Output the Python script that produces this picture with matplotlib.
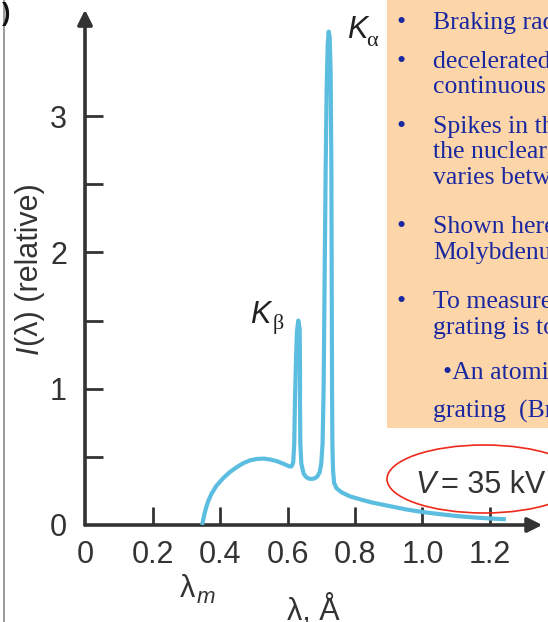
"""
X 射线谱 (Mo 靶, V = 35 kV) 的重绘
"""

import matplotlib
matplotlib.use("Agg")
import matplotlib.pyplot as plt
from matplotlib.patches import Rectangle, Ellipse

# ================== 数据 ==================
wavelength = [0.347, 0.352, 0.358, 0.365, 0.375, 0.39, 0.41, 0.43, 0.45,
              0.47, 0.49, 0.51, 0.53, 0.55, 0.57, 0.59, 0.605, 0.612,
              0.617, 0.620, 0.622, 0.625, 0.628, 0.632, 0.636, 0.637,
              0.637, 0.638, 0.641, 0.648, 0.656, 0.664, 0.672, 0.680, 0.688,
              0.695, 0.700, 0.704, 0.707, 0.710, 0.713, 0.716, 0.719, 0.722,
              0.725, 0.728, 0.730, 0.731, 0.732, 0.733, 0.735, 0.738, 0.745,
              0.76, 0.785, 0.82, 0.85, 0.90, 0.95, 1.00, 1.05, 1.10, 1.15,
              1.20, 1.247]
intensity = [0.0, 0.06, 0.12, 0.175, 0.23, 0.29, 0.345, 0.39, 0.425,
             0.455, 0.475, 0.485, 0.487, 0.48, 0.467, 0.447, 0.43, 0.43,
             0.46, 0.60, 0.90, 1.20, 1.42, 1.50, 1.44, 1.20,
             0.90, 0.60, 0.45, 0.375, 0.35, 0.34, 0.338, 0.342, 0.355,
             0.385, 0.45, 0.60, 1.00, 1.80, 2.60, 3.20, 3.52, 3.62,
             3.58, 3.30, 2.60, 1.80, 1.00, 0.60, 0.40, 0.31, 0.27,
             0.24, 0.21, 0.185, 0.165, 0.14, 0.115, 0.095, 0.08, 0.066, 0.056,
             0.048, 0.042]

x_ticks = [0, 0.2, 0.4, 0.6, 0.8, 1.0, 1.2]
x_labels = ["0", "0.2", "0.4", "0.6", "0.8", "1.0", "1.2"]
y_ticks = [0, 1, 2, 3]
y_minor = [0.5, 1.5, 2.5]

box_lines = ["Braking radiation", "decelerated electrons", "continuous spectrum",
             "Spikes in the spectrum", "the nuclear charge", "varies between",
             "Shown here is", "Molybdenum", "To measure wavelength",
             "grating is too coarse", "\u2022An atomic lattice", "grating  (Bragg)"]
box_line_y = [23, 62, 87, 127, 152, 178, 227, 253, 302, 328, 373, 411]
bullet_y = [23, 62, 127, 227, 302]

# ================== 画布 ==================
W, H = 548, 622
fig = plt.figure(figsize=(W / 100, H / 100), dpi=100)


def fx(px):
    return px / W


def fy(py):
    return 1 - py / H


x0, y0 = 85, 525          # 原点像素位置
sx, sy = 337.5, 136.3      # 每单位像素
xmax, ymax = 1.38, 3.85
ax = fig.add_axes([fx(x0), fy(y0), xmax * sx / W, ymax * sy / H])
ax.set_xlim(0, xmax)
ax.set_ylim(0, ymax)
for s in ax.spines.values():
    s.set_visible(False)
ax.patch.set_alpha(0)

axis_col = "#333333"
sans = "Liberation Sans"

# 坐标轴箭头
arrow = dict(arrowstyle="-|>", color=axis_col, lw=2.6, mutation_scale=22,
             shrinkA=0, shrinkB=0)
ax.annotate("", xy=(1.355, 0), xytext=(0, 0), arrowprops=arrow, annotation_clip=False)
ax.annotate("", xy=(0, 3.78), xytext=(0, 0), arrowprops=arrow, annotation_clip=False)

# 刻度
ax.set_xticks(x_ticks)
ax.set_xticklabels(x_labels)
ax.set_yticks(y_ticks)
ax.set_yticks(y_minor, minor=True)
ax.tick_params(which="both", direction="in", length=13, width=2.0, color=axis_col,
               labelsize=22, labelcolor=axis_col)
ax.tick_params(axis="x", pad=11)
ax.tick_params(axis="y", pad=13)
for lab in ax.get_xticklabels() + ax.get_yticklabels():
    lab.set_family(sans)
ax.xaxis.get_major_ticks()[0].tick1line.set_visible(False)
ax.yaxis.get_major_ticks()[0].tick1line.set_visible(False)

# 曲线
ax.plot(wavelength, intensity, color="#5bbde0", lw=3.0, solid_joinstyle="round",
        solid_capstyle="butt", zorder=3)

# ================== 文字标注 ==================
fig.text(fx(347), fy(38), "K", fontsize=22, style="italic", family=sans,
         color="#222222", va="baseline")
fig.text(fx(366), fy(46), "\u03b1", fontsize=16, family="Liberation Serif",
         color="#222222", va="baseline")
fig.text(fx(250), fy(323), "K", fontsize=22, style="italic", family=sans,
         color="#222222", va="baseline")
fig.text(fx(273), fy(329), "\u03b2", fontsize=16, family="Liberation Serif",
         color="#222222", va="baseline")

fig.text(fx(180), fy(597), "\u03bb", fontsize=22, family=sans, color=axis_col,
         va="baseline")
fig.text(fx(197), fy(603), "m", fontsize=16, style="italic", family=sans,
         color=axis_col, va="baseline")
fig.text(fx(287), fy(620), "\u03bb, \u00c5", fontsize=22, family=sans,
         color=axis_col, va="baseline")

fig.text(fx(30), fy(265), "(\u03bb) (relative)", fontsize=22, family=sans,
         color=axis_col, rotation=90, ha="center", va="center")
fig.text(fx(30), fy(350), "I", fontsize=22, family=sans, style="italic",
         color=axis_col, rotation=90, ha="center", va="center")

# 左侧残留边线
fig.add_artist(plt.Line2D([fx(4), fx(4)], [0, 1], color="#8a8a8a", lw=1.2))
fig.text(fx(2), fy(14), ")", fontsize=18, color="#111111", va="center", ha="left",
         family=sans, weight="bold")

# ================== 右侧文本框 ==================
fig.add_artist(Rectangle((fx(387), fy(428)), 1 - fx(387), fy(0) - fy(428),
                         transform=fig.transFigure, facecolor="#fcd5a9",
                         edgecolor="none", zorder=5))
text_col = "#1a28a0"
for line, py in zip(box_lines, box_line_y):
    x_start = 443 if line.startswith("\u2022") else 433
    fig.text(fx(x_start), fy(py), line, fontsize=18.5, family="Liberation Serif",
             color=text_col, va="center", ha="left", zorder=6)
for py in bullet_y:
    fig.text(fx(401), fy(py), "\u2022", fontsize=18.5, family="Liberation Serif",
             color=text_col, va="center", ha="center", zorder=6)

# ================== 电压标注 ==================
fig.add_artist(Ellipse((fx(484), fy(479)), 194 / W, 68 / H, transform=fig.transFigure,
                       facecolor="none", edgecolor="#ee2a1a", lw=1.2, zorder=6))
fig.text(fx(415), fy(493), "V", fontsize=22, style="italic", family=sans,
         color=axis_col, va="baseline")
fig.text(fx(441), fy(493), "= 35 kV", fontsize=22, family=sans,
         color=axis_col, va="baseline")

fig.savefig("out.png", dpi=100)
